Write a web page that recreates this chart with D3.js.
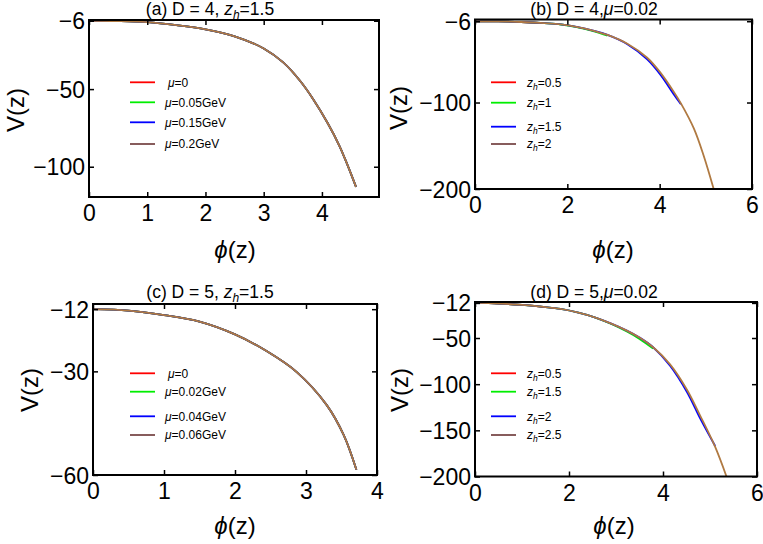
<!DOCTYPE html>
<html><head><meta charset="utf-8">
<script src="https://cdn.jsdelivr.net/npm/d3@7"></script>
<style>
body{margin:0;background:#fff}
svg{display:block}
text{font-family:"Liberation Sans",Arial,Helvetica,sans-serif;fill:#000}
</style>
</head><body>
<svg id="chart" width="763" height="544"></svg>
<script>
// ---------------- DATA ----------------
// Panel (a): D = 4, z_h = 1.5 — all four mu curves coincide
const phiA = [0, 0.5, 1, 1.5, 2, 2.5, 3, 3.34, 3.62, 3.85, 4.1, 4.3, 4.44, 4.585];
const vA   = [-6, -6.2, -6.9, -8.8, -11.5, -16, -23.8, -33, -44.5, -56.5, -72, -86.5, -99, -113];
const legendA = ["0", "0.05GeV", "0.15GeV", "0.2GeV"];

// Panel (b): D = 4, mu = 0.02
const phiB_red   = [0, 0.5, 1, 1.45];
const vB_red     = [-6, -6.2, -6.9, -8.1];
const phiB_green = [0, 0.5, 1, 1.5, 1.86, 2.2, 2.58, 2.87];
const vB_green   = [-6, -6.2, -6.9, -8.3, -9.8, -12.9, -17.8, -22.8];
const phiB_blue  = [0, 0.5, 1, 1.5, 1.86, 2.2, 2.58, 2.87, 3.3, 3.73, 4.02, 4.3, 4.46];
const vB_blue    = [-6, -6.2, -6.9, -8.2, -9.6, -12.5, -17.2, -21.8, -32.5, -50, -68, -90, -102];
const phiB_brown = [0, 0.5, 1, 1.5, 1.86, 2.2, 2.58, 2.87, 3.3, 3.73, 4.02, 4.3, 4.46, 4.74, 4.95, 5.17];
const vB_brown   = [-6, -6.2, -6.9, -8.2, -9.6, -12.5, -17.2, -21.8, -32, -48.2, -65.7, -87.2, -101, -130, -161, -200];
const legendB = ["0.5", "1", "1.5", "2"];

// Panel (c): D = 5, z_h = 1.5 — all four mu curves coincide
const phiC = [0, 0.5, 1, 1.5, 2, 2.45, 2.87, 3.29, 3.53, 3.71];
const vC   = [-12, -12.4, -13.7, -15.6, -19.3, -24.2, -30.2, -39.7, -48.4, -58.5];
const legendC = ["0", "0.02GeV", "0.04GeV", "0.06GeV"];

// Panel (d): D = 5, mu = 0.02
const phiD_red   = [0, 0.5, 1, 1.5];
const vD_red     = [-12, -12.6, -14.2, -16.6];
const phiD_green = [0, 0.5, 1, 1.5, 1.82, 2.2, 2.53, 2.9, 3.23, 3.5, 3.79];
const vD_green   = [-12, -12.6, -14.2, -16.5, -18.5, -22.5, -27.3, -34.8, -43, -51, -61.5];
const phiD_blue  = [0, 0.5, 1, 1.5, 1.82, 2.2, 2.53, 2.9, 3.23, 3.5, 3.79, 4.15, 4.51, 4.79, 5.11];
const vD_blue    = [-12, -12.6, -14.2, -16.5, -18.5, -22.5, -27.3, -34.5, -42, -49.5, -60, -80, -108.5, -137, -167];
const phiD_brown = [0, 0.5, 1, 1.5, 1.82, 2.2, 2.53, 2.9, 3.23, 3.5, 3.79, 4.15, 4.51, 4.79, 5.11, 5.35];
const vD_brown   = [-12, -12.6, -14.2, -16.5, -18.5, -22.5, -27.3, -34.5, -42, -49.5, -60, -78.5, -106, -134, -168, -200];
const legendD = ["0.5", "1.5", "2", "2.5"];

// Axis ticks
const xTicksA = [0, 1, 2, 3, 4];
const yTicksA = [-6, -50, -100];
const xTicksB = [0, 2, 4, 6];
const yTicksB = [-6, -100, -200];
const xTicksC = [0, 1, 2, 3, 4];
const yTicksC = [-12, -30, -60];
const xTicksD = [0, 2, 4, 6];
const yTicksD = [-12, -50, -100, -150, -200];

// ---------------- DRAWING ----------------
const COLORS = ["#ff0000", "#00ee00", "#0000ff", "#7a4a4a"];
const CURVE_TOP = "#b07a42";
const svg = d3.select("#chart");
const zip = (xs, ys) => xs.map((x, i) => [x, ys[i]]);
const minus = s => String(s).replace("-", "\u2212");

const panels = [
  { key: "a", box: [89, 379, 20, 197], xd: [0, 4.98], yd: [-119.5, -5.5], xt: xTicksA, yt: yTicksA,
    title: {x: 210, y: 15, pre: "(a) D = 4, ", type: "zh", val: "1.5"},
    ylab: [16, 110], xlab: [235, 258],
    series: [zip(phiA, vA), zip(phiA, vA), zip(phiA, vA), zip(phiA, vA)],
    legend: {kind: "mu", labels: legendA, x: 130, tx: 165, ys: [82.3, 102.3, 122.3, 144]} },
  { key: "b", box: [475, 752, 19.5, 189], xd: [0, 6], yd: [-200, -4], xt: xTicksB, yt: yTicksB,
    title: {x: 594, y: 15, pre: "(b) D = 4,", type: "mu", val: "0.02"},
    ylab: [399, 108], xlab: [613, 258],
    series: [zip(phiB_red, vB_red), zip(phiB_green, vB_green), zip(phiB_blue, vB_blue), zip(phiB_brown, vB_brown)],
    legend: {kind: "zh", labels: legendB, x: 491, tx: 527, ys: [82.3, 102.7, 126.7, 144]} },
  { key: "c", box: [93, 377, 304, 475], xd: [0, 4], yd: [-60, -10.5], xt: xTicksC, yt: yTicksC,
    title: {x: 210, y: 298, pre: "(c) D = 5, ", type: "zh", val: "1.5"},
    ylab: [30, 390], xlab: [235, 534],
    series: [zip(phiC, vC), zip(phiC, vC), zip(phiC, vC), zip(phiC, vC)],
    legend: {kind: "mu", labels: legendC, x: 130, tx: 165, ys: [373.3, 391.7, 416.3, 435]} },
  { key: "d", box: [475, 757, 302, 476.5], xd: [0, 6], yd: [-200, -11], xt: xTicksD, yt: yTicksD,
    title: {x: 594, y: 298, pre: "(d) D = 5,", type: "mu", val: "0.02"},
    ylab: [400, 390], xlab: [614, 534],
    series: [zip(phiD_red, vD_red), zip(phiD_green, vD_green), zip(phiD_blue, vD_blue), zip(phiD_brown, vD_brown)],
    legend: {kind: "zh", labels: legendD, x: 491, tx: 527, ys: [373.3, 391.7, 416.3, 435]} }
];

function addZh(t, val, fs, subFs) {
  t.append("tspan").attr("font-style", "italic").text("z");
  t.append("tspan").attr("font-style", "italic").attr("font-size", subFs).attr("dy", fs * 0.25).text("h");
  t.append("tspan").attr("dy", -fs * 0.25).text("=" + val);
}
function addMu(t, val) {
  t.append("tspan").attr("font-style", "italic").text("\u03bc");
  t.append("tspan").text("=" + val);
}

panels.forEach(p => {
  const [x0, x1, y0, y1] = p.box;
  const g = svg.append("g").attr("class", "panel-" + p.key);
  const x = d3.scaleLinear().domain(p.xd).range([x0, x1]);
  const y = d3.scaleLinear().domain(p.yd).range([y1, y0]);

  const cid = "clip-" + p.key;
  g.append("clipPath").attr("id", cid).append("rect")
    .attr("x", x0).attr("y", y0).attr("width", x1 - x0).attr("height", y1 - y0);

  const line = d3.line().x(d => x(d[0])).y(d => y(d[1])).curve(d3.curveCatmullRom.alpha(0.5));
  const cg = g.append("g").attr("clip-path", `url(#${cid})`);
  p.series.forEach((s, i) => {
    cg.append("path").datum(s).attr("d", line).attr("fill", "none")
      .attr("stroke", i === 3 ? CURVE_TOP : COLORS[i]).attr("stroke-width", 1.8)
      .attr("stroke-linejoin", "round");
  });

  const tl = 5;
  const bottom = g.append("g").attr("transform", `translate(0,${y1})`)
    .call(d3.axisBottom(x).tickValues(p.xt).tickSizeInner(-tl).tickSizeOuter(0).tickPadding(0).tickFormat(d => minus(d)));
  const top = g.append("g").attr("transform", `translate(0,${y0})`)
    .call(d3.axisTop(x).tickValues(p.xt).tickSizeInner(-tl).tickSizeOuter(0).tickFormat(""));
  const left = g.append("g").attr("transform", `translate(${x0},0)`)
    .call(d3.axisLeft(y).tickValues(p.yt).tickSizeInner(-tl).tickSizeOuter(0).tickPadding(0).tickFormat(d => minus(d)));
  const right = g.append("g").attr("transform", `translate(${x1},0)`)
    .call(d3.axisRight(y).tickValues(p.yt).tickSizeInner(-tl).tickSizeOuter(0).tickFormat(""));
  [bottom, top, left, right].forEach(a => {
    a.select(".domain").remove();
    a.selectAll(".tick line").attr("stroke", "#000").attr("stroke-width", 1.5);
  });
  bottom.selectAll(".tick text").attr("font-size", 23).attr("font-family", null)
    .attr("y", 24).attr("dy", 0).attr("fill", "#000");
  left.selectAll(".tick text").attr("font-size", 23).attr("font-family", null)
    .attr("x", -4).attr("dy", "0.35em").attr("fill", "#000");

  g.append("rect").attr("x", x0).attr("y", y0).attr("width", x1 - x0).attr("height", y1 - y0)
    .attr("fill", "none").attr("stroke", "#000").attr("stroke-width", 2);

  const t = g.append("text").attr("x", p.title.x).attr("y", p.title.y)
    .attr("text-anchor", "middle").attr("font-size", 17.5);
  t.append("tspan").text(p.title.pre);
  if (p.title.type === "zh") addZh(t, p.title.val, 17.5, 12);
  else addMu(t, p.title.val);

  g.append("text").attr("transform", `translate(${p.ylab[0]},${p.ylab[1]}) rotate(-90)`)
    .attr("text-anchor", "middle").attr("dy", "0.35em").attr("font-size", 24).text("V(z)");
  const xl = g.append("text").attr("x", p.xlab[0]).attr("y", p.xlab[1])
    .attr("text-anchor", "middle").attr("font-size", 24);
  xl.append("tspan").attr("font-style", "italic").text("\u03d5");
  xl.append("tspan").text("(z)");

  const L = p.legend;
  L.labels.forEach((lab, i) => {
    const ly = L.ys[i];
    g.append("line").attr("x1", L.x).attr("x2", L.x + 25).attr("y1", ly).attr("y2", ly)
      .attr("stroke", COLORS[i]).attr("stroke-width", 1.8);
    const lt = g.append("text").attr("x", L.tx + (L.kind === "mu" && lab === "0" ? 3 : 0))
      .attr("y", ly).attr("dy", "0.35em").attr("font-size", 12);
    if (L.kind === "mu") addMu(lt, lab); else addZh(lt, lab, 12, 8.5);
  });
});
</script>
</body></html>
